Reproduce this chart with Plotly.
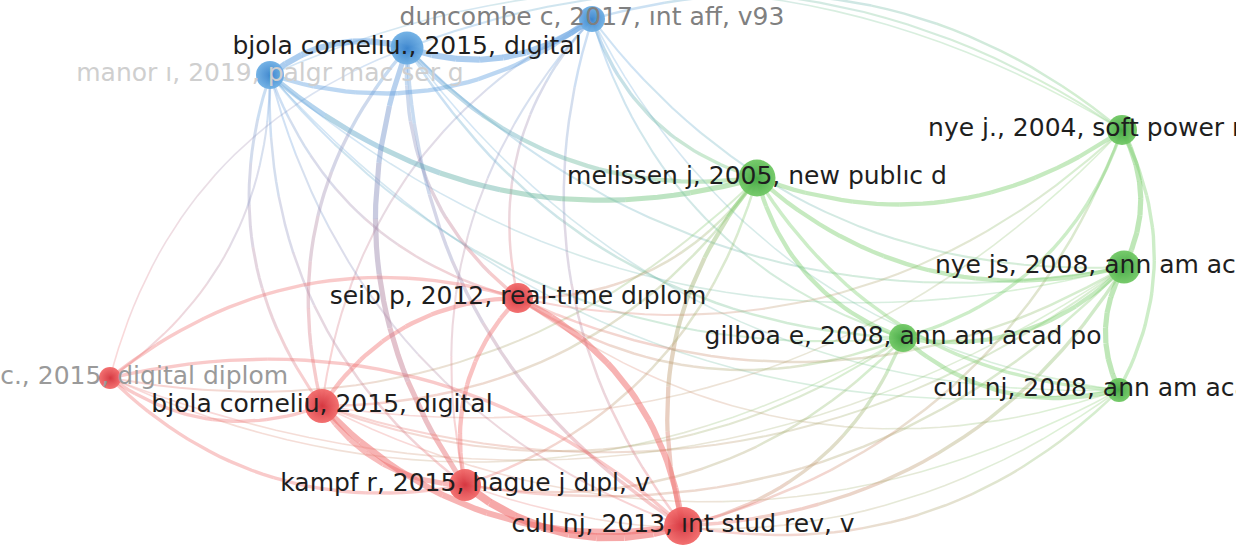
import numpy as np
import plotly.graph_objects as go

# items of the co-citation map (cluster 0 = red, 1 = green, 2 = blue)
labels = [
    "duncombe c, 2017, ınt aff, v93",
    "bjola corneliu., 2015, dıgital",
    "manor ı, 2019, palgr mac ser g",
    "nye j., 2004, soft power means",
    "melissen j, 2005, new publıc d",
    "nye js, 2008, ann am acad pol",
    "gilboa e, 2008, ann am acad po",
    "cull nj, 2008, ann am acad po",
    "seib p, 2012, real-tıme dıplom",
    "bjola c., 2015, digital diplom",
    "bjola corneliu, 2015, dıgital",
    "kampf r, 2015, hague j dıpl, v",
    "cull nj, 2013, ınt stud rev, v",
]
node_x = [592, 407, 270, 1122, 757, 1124, 903, 1119, 518, 110, 322, 465, 683]
node_y = [19, 48, 75, 130, 178, 267, 338, 390, 298, 378, 406, 485, 526]
node_weight = [26, 33, 28, 30, 37, 33, 28, 24, 30, 22, 34, 32, 38]
cluster = [2, 2, 2, 1, 1, 1, 1, 1, 0, 0, 0, 0, 0]
label_color = ["#808080", "#1e1e1e", "#cfcfcf", "#1e1e1e", "#1e1e1e", "#1e1e1e", "#1e1e1e",
               "#1e1e1e", "#1e1e1e", "#9a9a9a", "#1e1e1e", "#1e1e1e", "#1e1e1e"]

# links: from, to, strength
edge_from = [1, 1, 2, 2, 1, 0, 3, 3, 3, 0, 0, 0, 1, 1, 1, 2, 2, 2,
             1, 2, 1, 1, 0, 2, 9, 1, 0, 0, 2, 0, 1, 2,
             4, 4, 4, 4, 5, 7, 5, 6, 6, 6,
             4, 12, 12, 12, 12, 11, 11, 11, 11, 10, 10, 10, 10, 10, 8, 8, 8, 8, 8, 9, 9, 9,
             11, 10, 10, 12, 8, 8, 9, 9, 12, 8]
edge_to = [2, 0, 0, 4, 4, 4, 0, 1, 2, 5, 6, 7, 5, 6, 7, 5, 6, 7,
           11, 10, 10, 8, 8, 8, 2, 12, 12, 11, 11, 10, 9, 12,
           3, 5, 6, 7, 3, 3, 7, 5, 7, 3,
           12, 6, 7, 5, 3, 4, 5, 6, 7, 4, 5, 6, 7, 3, 4, 5, 6, 7, 3, 4, 5, 6,
           12, 12, 11, 8, 11, 10, 10, 11, 9, 9]
edge_w = [6, 6, 4, 5, 4, 3, 2, 1.5, 1, 1.5, 1.5, 1, 1.5, 2, 1, 1, 1.5, 1,
          5, 2.5, 3, 3, 2, 2, 1.5, 3, 2, 1.5, 2, 1.5, 1, 1.5,
          4, 4, 4, 3, 5, 3, 5, 4, 4, 3,
          4, 3, 2, 3, 2, 2, 2, 2, 1, 2, 1.5, 1.5, 1, 1, 2, 2, 2, 1, 1.5, 1.5, 1, 1,
          8, 6, 5, 6, 4, 4, 3, 3, 3, 3]

edge_rgb = {0: (240, 110, 110), 1: (120, 205, 105), 2: (95, 160, 225)}
node_fill = {0: "rgb(242,105,105)", 1: "rgb(112,200,100)", 2: "rgb(110,175,228)"}
node_rim = {0: "rgb(212,52,62)", 1: "rgb(68,168,68)", 2: "rgb(58,132,205)"}

fig = go.Figure()

bend = 0.26
nseg = 8
order = np.argsort(edge_w, kind="stable")
for k in order:
    a, b, w = edge_from[k], edge_to[k], edge_w[k]
    p0 = np.array([node_x[a], node_y[a]], float)
    p2 = np.array([node_x[b], node_y[b]], float)
    d = p2 - p0
    perp = np.array([-d[1], d[0]])
    p1 = (p0 + p2) / 2 + bend * perp
    t = np.linspace(0, 1, nseg * 4 + 1)
    pts = ((1 - t) ** 2)[:, None] * p0 + (2 * (1 - t) * t)[:, None] * p1 + (t ** 2)[:, None] * p2
    ca = np.array(edge_rgb[cluster[a]], float)
    cb = np.array(edge_rgb[cluster[b]], float)
    alpha = min(0.6, 0.22 + 0.05 * w)
    for s in range(nseg):
        seg = pts[s * 4:(s + 1) * 4 + 1]
        tm = (s + 0.5) / nseg
        c = (1 - tm) * ca + tm * cb
        fig.add_trace(go.Scatter(
            x=seg[:, 0], y=seg[:, 1], mode="lines",
            line=dict(color=f"rgba({c[0]:.0f},{c[1]:.0f},{c[2]:.0f},{alpha:.2f})",
                      width=0.7 + 0.9 * w),
            hoverinfo="skip", showlegend=False))

fig.add_trace(go.Scatter(
    x=node_x, y=node_y, mode="markers",
    marker=dict(size=node_weight,
                color=[node_fill[c] for c in cluster],
                gradient=dict(type="radial", color=[node_rim[c] for c in cluster]),
                line=dict(width=0), opacity=0.95),
    hoverinfo="skip", showlegend=False))

fig.add_trace(go.Scatter(
    x=node_x, y=node_y, mode="text", text=labels,
    textposition="middle center",
    textfont=dict(family="DejaVu Sans", size=25, color=label_color),
    hoverinfo="skip", showlegend=False))

fig.update_layout(
    width=1236, height=548,
    margin=dict(l=0, r=0, t=0, b=0),
    paper_bgcolor="white", plot_bgcolor="white",
    xaxis=dict(range=[0, 1236], visible=False, fixedrange=True),
    yaxis=dict(range=[548, 0], visible=False, fixedrange=True),
)

# drop the default 8px page margin so the map fills the window
fig.write_html("out.html", config={"displayModeBar": False},
               post_script="document.body.style.margin='0';")
